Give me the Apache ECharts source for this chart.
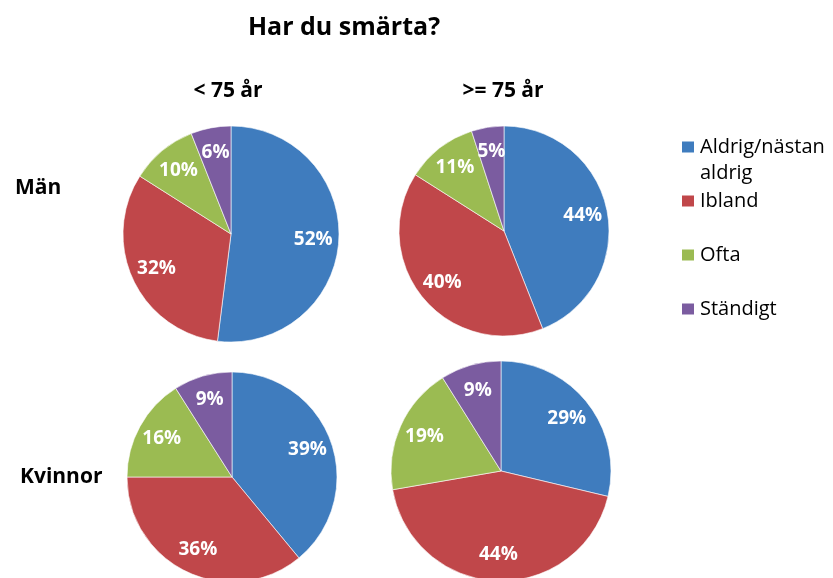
<!DOCTYPE html>
<html>

<head>
    <meta charset="utf-8">
    <title>Har du smärta?</title>
    <script src="https://cdn.jsdelivr.net/npm/echarts@6/dist/echarts.min.js"></script>
</head>

<body style="margin:0">
    <div id="main" style="width: 833px;height:578px;"></div>
    <script type="text/javascript">
    // kategorier
    var categories = ['Aldrig/nästan aldrig', 'Ibland', 'Ofta', 'Ständigt'];
    var colors = ['#3F7CBE', '#C0474A', '#9BBB52', '#7B5CA0'];

    // procent per grupp
    var manUnder75 = [52, 32, 10, 6];
    var manOver75 = [44, 40, 11, 5];
    var kvinnorUnder75 = [39, 36, 16, 9];
    var kvinnorOver75 = [29, 44, 19, 9];

    var font = '"Open Sans", "Liberation Sans", sans-serif';

    // pajernas placering: [data, centrum, radie]
    var pies = [
        [manUnder75, [231, 234], 108],
        [manOver75, [504, 231], 105],
        [kvinnorUnder75, [232, 477], 105],
        [kvinnorOver75, [501, 471], 110]
    ];

    var myChart = echarts.init(document.getElementById('main'));

    var series = [];
    pies.forEach(function (p) {
        var data = p[0].map(function (v, i) {
            return { name: categories[i], value: v, itemStyle: { color: colors[i] } };
        });
        // själva pajen
        series.push({
            type: 'pie',
            center: p[1],
            radius: [0, p[2]],
            startAngle: 90,
            clockwise: true,
            silent: true,
            label: { show: false },
            labelLine: { show: false },
            itemStyle: { borderColor: '#fff', borderWidth: 0.6 },
            data: data
        });
        // osynlig ring bara för etiketterna (hamnar längre ut)
        series.push({
            type: 'pie',
            center: p[1],
            radius: [p[2] * 0.47, p[2]],
            startAngle: 90,
            silent: true,
            label: {
                show: true,
                position: 'inside',
                formatter: '{c}%',
                color: '#fff',
                fontFamily: font,
                fontWeight: 'bold',
                fontSize: 19
            },
            labelLine: { show: false },
            itemStyle: { color: 'rgba(0,0,0,0)' },
            data: p[0].map(function (v, i) { return { name: categories[i] + ' ', value: v }; })
        });
    });

    // legend, en per post
    var legendCenters = [147, 201, 255, 309];
    var legends = categories.map(function (c, i) {
        var first = i === 0;
        return {
            orient: 'vertical',
            left: 675,
            top: (first ? legendCenters[i] - 39 : legendCenters[i] - 11) - 5,
            icon: 'rect',
            itemWidth: 14,
            itemHeight: 13,
            itemGap: 0,
            selectedMode: false,
            data: [{ name: c, itemStyle: { color: colors[i] } }],
            // första posten: tom rad överst så att första textraden hamnar vid ikonen
            formatter: function (n) { return n === 'Aldrig/nästan aldrig' ? ' \nAldrig/nästan\naldrig' : n; },
            textStyle: {
                fontFamily: font,
                fontSize: 20,
                color: '#000',
                lineHeight: first ? 26 : 22
            }
        };
    });

    function txt(s, x, y, size, align) {
        return {
            type: 'text',
            x: x,
            y: y,
            style: {
                text: s,
                fill: '#000',
                font: 'bold ' + size + 'px ' + font,
                textAlign: align || 'center',
                textVerticalAlign: 'middle'
            }
        };
    }

    var option = {
        animation: false,
        legend: legends,
        graphic: [
            txt('Har du smärta?', 344, 28, 25),
            txt('< 75 år', 228, 91, 21),
            txt('>= 75 år', 503, 91, 21),
            txt('Män', 15, 188, 21, 'left'),
            txt('Kvinnor', 20, 477, 21, 'left')
        ],
        series: series
    };

    myChart.setOption(option);
    </script>
</body>

</html>
